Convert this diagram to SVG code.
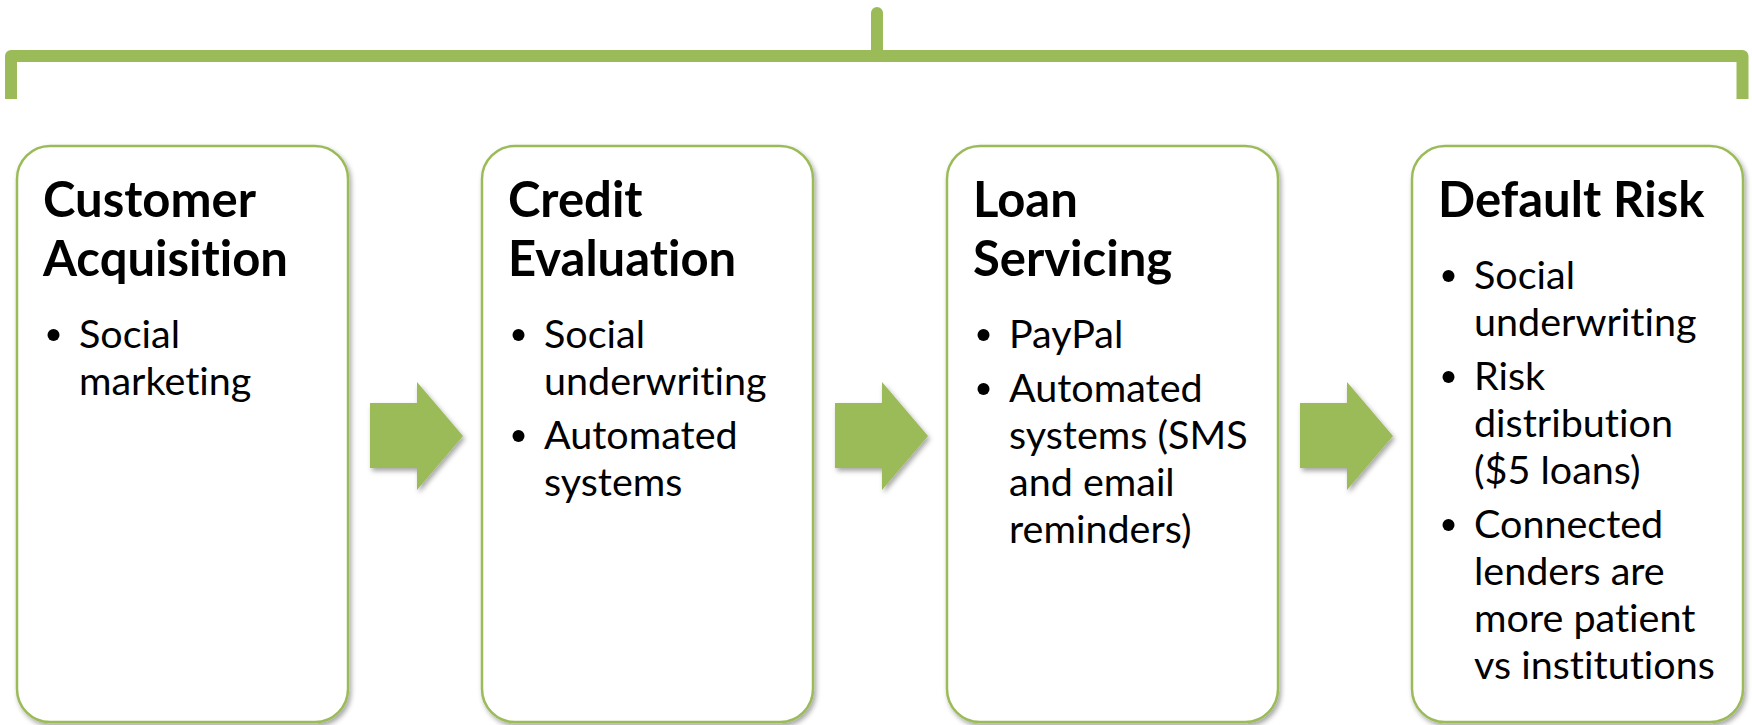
<svg xmlns="http://www.w3.org/2000/svg" width="1752" height="725" viewBox="0 0 1752 725">
  <defs>
    <filter id="sh" x="-10%" y="-10%" width="125%" height="125%">
      <feDropShadow dx="2" dy="3" stdDeviation="2.5" flood-color="#000" flood-opacity="0.35"/>
    </filter>
    <style>
      .box { fill: #ffffff; stroke: #9BBB59; stroke-width: 2.5; }
      .arrow { fill: #9BBB59; }
      .title { font-family: Lato, "Liberation Sans", sans-serif; font-weight: bold; font-size: 49px; fill: #000; font-variant-ligatures: none; }
      .body { font-family: Lato, "Liberation Sans", sans-serif; font-size: 39.5px; fill: #000; font-variant-ligatures: none; }
      .dot { fill: #000; }
    </style>
  </defs>
  <rect width="1752" height="725" fill="#ffffff"/>

  <g id="bracket" fill="none" stroke="#9BBB59" stroke-width="12">
    <path d="M11 99 V56 H1742.5 V99" stroke-linejoin="round"/>
    <line x1="877" y1="13" x2="877" y2="56" stroke-linecap="round"/>
  </g>

  <g id="connectors">
    <polygon class="arrow" filter="url(#sh)" points="370,403 417,403 417,382 463,436 417,490 417,468 370,468"/>
    <polygon class="arrow" filter="url(#sh)" points="835,403 882,403 882,382 928,436 882,490 882,468 835,468"/>
    <polygon class="arrow" filter="url(#sh)" points="1300,403 1347,403 1347,382 1393,436 1347,490 1347,468 1300,468"/>
  </g>

  <g id="node-customer-acquisition">
    <rect class="box" filter="url(#sh)" x="17" y="146" width="331" height="576" rx="33"/>
    <text class="title" x="43" y="217">Customer</text>
    <text class="title" x="43" y="276">Acquisition</text>
    <circle class="dot" cx="53.5" cy="335" r="6"/>
    <text class="body" x="79" y="348">Social</text>
    <text class="body" x="79" y="395">marketing</text>
  </g>

  <g id="node-credit-evaluation">
    <rect class="box" filter="url(#sh)" x="482" y="146" width="331" height="576" rx="33"/>
    <text class="title" x="508" y="217">Credit</text>
    <text class="title" x="508" y="276">Evaluation</text>
    <circle class="dot" cx="518.5" cy="335" r="6"/>
    <text class="body" x="544" y="348">Social</text>
    <text class="body" x="544" y="395">underwriting</text>
    <circle class="dot" cx="518.5" cy="436" r="6"/>
    <text class="body" x="544" y="449">Automated</text>
    <text class="body" x="544" y="496">systems</text>
  </g>

  <g id="node-loan-servicing">
    <rect class="box" filter="url(#sh)" x="947" y="146" width="331" height="576" rx="33"/>
    <text class="title" x="973" y="217">Loan</text>
    <text class="title" x="973" y="276">Servicing</text>
    <circle class="dot" cx="983.5" cy="335" r="6"/>
    <text class="body" x="1009" y="348">PayPal</text>
    <circle class="dot" cx="983.5" cy="389" r="6"/>
    <text class="body" x="1009" y="402">Automated</text>
    <text class="body" x="1009" y="449">systems (SMS</text>
    <text class="body" x="1009" y="496">and email</text>
    <text class="body" x="1009" y="543">reminders)</text>
  </g>

  <g id="node-default-risk">
    <rect class="box" filter="url(#sh)" x="1412" y="146" width="331" height="576" rx="33"/>
    <text class="title" x="1438" y="217">Default Risk</text>
    <circle class="dot" cx="1448.5" cy="276" r="6"/>
    <text class="body" x="1474" y="289">Social</text>
    <text class="body" x="1474" y="336">underwriting</text>
    <circle class="dot" cx="1448.5" cy="377" r="6"/>
    <text class="body" x="1474" y="390">Risk</text>
    <text class="body" x="1474" y="437">distribution</text>
    <text class="body" x="1474" y="484">($5 loans)</text>
    <circle class="dot" cx="1448.5" cy="525" r="6"/>
    <text class="body" x="1474" y="538">Connected</text>
    <text class="body" x="1474" y="585">lenders are</text>
    <text class="body" x="1474" y="632">more patient</text>
    <text class="body" x="1474" y="679">vs institutions</text>
  </g>
</svg>
